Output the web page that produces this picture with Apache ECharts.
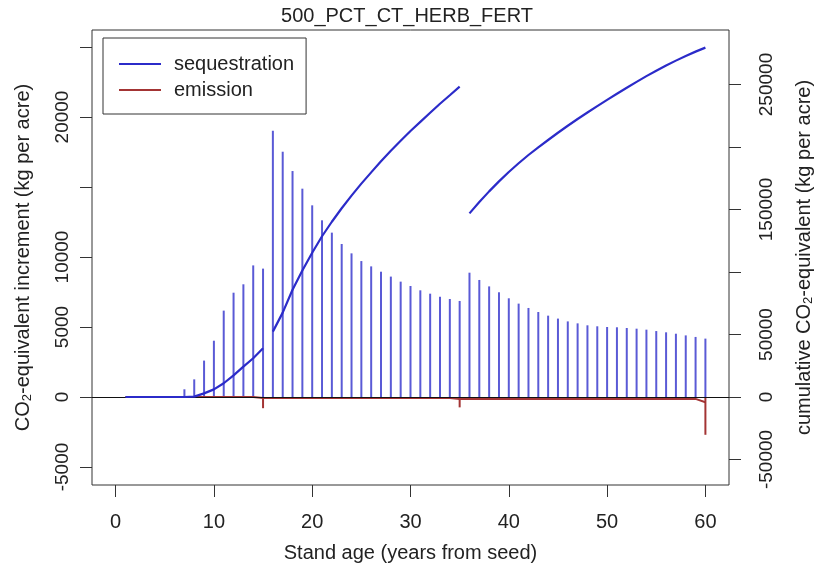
<!DOCTYPE html>
<html>
<head>
<meta charset="utf-8">
<script src="https://cdn.jsdelivr.net/npm/echarts@6/dist/echarts.min.js"></script>
<style>
  html, body { margin: 0; padding: 0; background: #fff; }
  #chart { width: 814px; height: 571px; }
</style>
</head>
<body>
<div id="chart"></div>
<script>
// stand age, years
const years = [1,2,3,4,5,6,7,8,9,10,11,12,13,14,15,16,17,18,19,20,
  21,22,23,24,25,26,27,28,29,30,31,32,33,34,35,36,37,38,39,40,
  41,42,43,44,45,46,47,48,49,50,51,52,53,54,55,56,57,58,59,60]

// yearly increments (left axis)
const seqIncrement = [0,0,0,0,0,0,550,1260,2600,4020,6170,7450,8050,9400,9170,
  19020,17520,16140,14880,13690,12620,11740,10930,10260,9710,9330,8950,8600,8240,7930,
  7620,7380,7160,7000,6860,8880,8360,7900,7480,7050,6670,6360,6070,5810,5600,
  5400,5260,5120,5050,5000,4980,4930,4880,4810,4710,4620,4520,4400,4290,4170]
const emisIncrement = [0,0,0,0,0,0,0,0,0,0,0,0,0,0,-800,
  0,0,0,0,0,0,0,0,0,0,0,0,0,0,0,
  0,0,0,0,-740,0,0,0,0,0,0,0,0,0,0,
  0,0,0,0,0,0,0,0,0,0,0,0,0,0,-2700]

// cumulative (right axis), line is broken at the thinnings
const cumSeqA = [0,0,0,0,0,0,0,300,2900,6100,11000,17300,24300,31000,39000]           // years 1-15
const cumSeqB = [52300,67500,85800,101200,115400,128600,140200,151000,161100,170700,
  179700,188600,197000,205000,212800,220100,227400,234600,241400,248300]              // years 16-35
const cumSeqC = [146900,156000,164500,172500,180000,187000,193600,199700,205600,211400,
  217000,222400,227600,232700,237700,242600,247400,252100,256700,261000,
  265200,269100,272800,276300,279500]                                                 // years 36-60
const cumEmission = [0,0,0,0,0,0,0,0,0,0,0,0,0,0,-800,
  -800,-800,-800,-800,-800,-800,-800,-800,-800,-800,-800,-800,-800,-800,-800,
  -800,-800,-800,-800,-1540,-1540,-1540,-1540,-1540,-1540,-1540,-1540,-1540,-1540,-1540,
  -1540,-1540,-1540,-1540,-1540,-1540,-1540,-1540,-1540,-1540,-1540,-1540,-1540,-1540,-4240]

// tick labels
const xTicks = [0,10,20,30,40,50,60]
const leftTicks = [-5000,0,5000,10000,15000,20000,25000]
const leftLabels = [-5000,0,5000,10000,20000]
const rightTicks = [-50000,0,50000,100000,150000,200000,250000]
const rightLabels = [-50000,0,50000,150000,250000]

const BLUE_LINE = '#2b2bc9'
const BLUE_BAR = '#5a5ad6'
const RED = '#a33434'
const TXT = '#222'
const FONT = 'Liberation Sans, Arial, sans-serif'

const pairs = (ys, vals) => vals.map((v, i) => [ys[i], v])
const plain = v => String(v)

const chart = echarts.init(document.getElementById('chart'))

const tickStyle = { color: '#333', width: 1 }

const lineSeg = (startIdx, vals) => ({
  name: 'sequestration',
  type: 'line',
  yAxisIndex: 1,
  data: pairs(years.slice(startIdx), vals),
  showSymbol: false,
  symbol: 'none',
  z: 5,
  lineStyle: { color: BLUE_LINE, width: 2.2 },
  itemStyle: { color: BLUE_LINE }
})

const options = {
  animation: false,
  textStyle: { fontFamily: FONT },
  title: {
    text: '500_PCT_CT_HERB_FERT',
    left: 'center',
    top: 1,
    textStyle: { fontSize: 20, fontWeight: 'normal', color: TXT, fontFamily: FONT }
  },
  legend: {
    orient: 'vertical',
    left: 103,
    top: 38,
    data: [
      { name: 'sequestration', itemStyle: { color: BLUE_LINE } },
      { name: 'emission', itemStyle: { color: RED } }
    ],
    icon: 'rect',
    itemWidth: 42,
    itemHeight: 2,
    itemGap: 6,
    padding: [16, 12, 14, 16],
    borderColor: '#333',
    borderWidth: 1,
    selectedMode: false,
    textStyle: { fontSize: 20, color: TXT, fontFamily: FONT, padding: [0, 0, 0, 8] }
  },
  grid: {
    left: 92, right: 85, top: 30, bottom: 86,
    outerBoundsMode: 'none',
    containLabel: false,
    show: true, borderColor: '#333', borderWidth: 1
  },
  xAxis: {
    type: 'value',
    min: -2.4,
    max: 62.4,
    name: 'Stand age (years from seed)',
    nameLocation: 'middle',
    nameGap: 58,
    nameTextStyle: { fontSize: 20, color: TXT },
    axisLine: { show: false, onZero: false },
    splitLine: { show: false },
    axisTick: { customValues: xTicks, length: 12, lineStyle: tickStyle },
    axisLabel: { customValues: xTicks, margin: 27, fontSize: 20, color: TXT, formatter: plain }
  },
  yAxis: [
    {
      type: 'value',
      position: 'left',
      min: -6286,
      max: 26214,
      name: 'CO{sub|2}-equivalent increment (kg per acre)',
      nameLocation: 'middle',
      nameRotate: 90,
      nameGap: 58,
      nameTextStyle: {
        fontSize: 20, color: TXT,
        rich: { sub: { fontSize: 13, color: TXT, padding: [9, 0, 0, 0] } }
      },
      axisLine: { show: false, onZero: false },
      splitLine: { show: false },
      axisTick: { customValues: leftTicks, length: 12, lineStyle: tickStyle },
      axisLabel: { customValues: leftLabels, rotate: 90, margin: 20, fontSize: 19, color: TXT, formatter: plain }
    },
    {
      type: 'value',
      position: 'right',
      min: -70400,
      max: 293600,
      name: 'cumulative CO{sub|2}-equivalent (kg per acre)',
      nameLocation: 'middle',
      nameRotate: 90,
      nameGap: 64,
      nameTextStyle: {
        fontSize: 20, color: TXT,
        rich: { sub: { fontSize: 13, color: TXT, padding: [9, 0, 0, 0] } }
      },
      axisLine: { show: false, onZero: false },
      splitLine: { show: false },
      axisTick: { customValues: rightTicks, length: 12, lineStyle: tickStyle },
      axisLabel: { customValues: rightLabels, rotate: 90, margin: 28, fontSize: 19, color: TXT, formatter: plain }
    }
  ],
  series: [
    lineSeg(0, cumSeqA),
    lineSeg(15, cumSeqB),
    lineSeg(35, cumSeqC),
    {
      name: 'sequestration',
      type: 'bar',
      data: pairs(years, seqIncrement),
      barWidth: 2,
      barGap: '-100%',
      itemStyle: { color: BLUE_BAR }
    },
    {
      name: 'emission',
      type: 'bar',
      data: pairs(years, emisIncrement),
      barWidth: 2,
      barGap: '-100%',
      itemStyle: { color: RED },
      markLine: {
        silent: true,
        symbol: 'none',
        label: { show: false },
        lineStyle: { color: '#111', width: 1.2, type: 'solid' },
        data: [{ yAxis: 0 }]
      }
    },
    {
      name: 'emission',
      type: 'line',
      yAxisIndex: 1,
      data: pairs(years, cumEmission),
      showSymbol: false,
      symbol: 'none',
      z: 4,
      lineStyle: { color: RED, width: 2 },
      itemStyle: { color: RED }
    }
  ]
}

chart.setOption(options)
</script>
</body>
</html>
